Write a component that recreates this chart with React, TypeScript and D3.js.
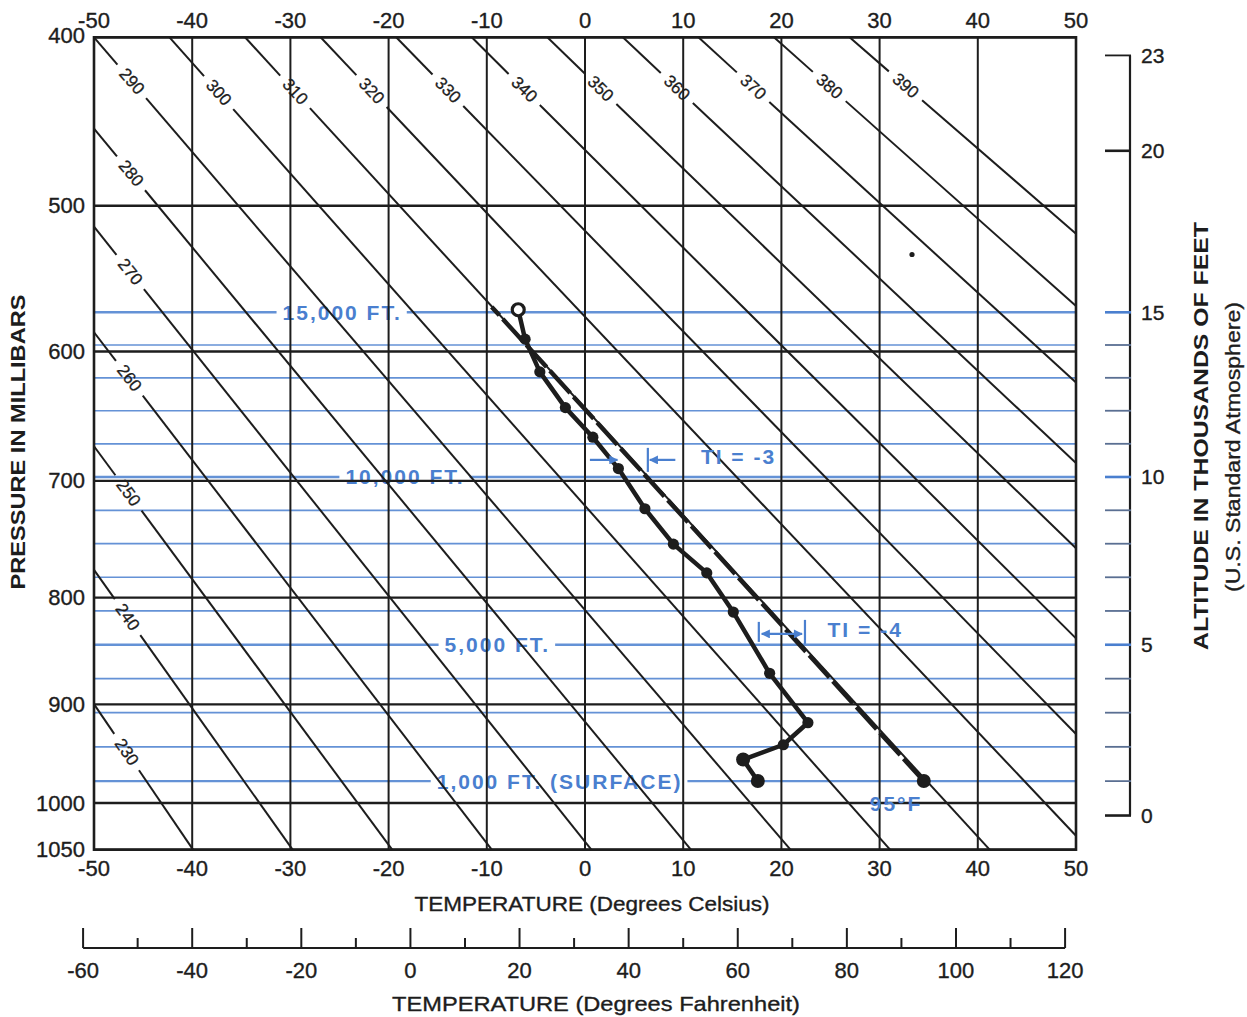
import { useEffect, useRef } from 'react';
import * as d3 from 'd3';

// isotherms (deg C) and isobars (mb)
const celsiusTicks = [-50, -40, -30, -20, -10, 0, 10, 20, 30, 40, 50];
const pressureTicks = [400, 500, 600, 700, 800, 900, 1000, 1050];
// dry adiabats, potential temperature in K
const thetaValues = [230, 240, 250, 260, 270, 280, 290, 300, 310, 320, 330, 340, 350, 360, 370, 380, 390];
// second temperature scale
const fahrenheitTicks = [-60, -50, -40, -30, -20, -10, 0, 10, 20, 30, 40, 50, 60, 70, 80, 90, 100, 110, 120];
const fahrenheitLabels = [-60, -40, -20, 0, 20, 40, 60, 80, 100, 120];
// altitude scale, thousands of feet
const altitudeTicks = [0, 1, 2, 3, 4, 5, 6, 7, 8, 9, 10, 11, 12, 13, 14, 15, 20, 23];
const altitudeLabels = [0, 5, 10, 15, 20, 23];
const altitudeLines = [1, 2, 3, 4, 5, 6, 7, 8, 9, 10, 11, 12, 13, 14, 15];

// morning sounding
const soundingPressure = [570, 591, 615, 642, 665, 690, 723, 753, 778, 813, 870, 918, 940, 955, 977];
const soundingTemp = [-6.8, -6.1, -4.6, -2.0, 0.8, 3.4, 6.1, 9.0, 12.4, 15.1, 18.8, 22.7, 20.2, 16.1, 17.6];
// dry adiabat from the 95F surface temperature
const parcelPressure = [977, 568];
const parcelTemp = [34.5, -9.5];
// stray dot on the sheet
const specklePressure = [532];
const speckleTemp = [33.3];

const altitudeLabelText = ['15,000 FT.', '10,000 FT.', '5,000 FT.', '1,000 FT. (SURFACE)'];
const altitudeLabelKft = [15, 10, 5, 1];

export default function App() {
  const svgRef = useRef<SVGSVGElement>(null);

  useEffect(() => {
    document.body.style.margin = '0';
    if (!svgRef.current) return;
    const svg = d3.select(svgRef.current);
    svg.selectAll('*').remove();

    const FONT = '"Liberation Sans", Arial, Helvetica, sans-serif';
    const KAPPA = 0.286;
    const INK = '#1d1d1d';
    const BLUE = '#4a7fcf';

    const x = d3.scaleLinear().domain([-50, 50]).range([94, 1076]);
    const y = d3.scalePow().exponent(KAPPA).domain([400, 1000]).range([37.3, 803]);
    const xF = (f: number) => x(((f - 32) * 5) / 9);
    const stdPressure = (kft: number) => 1013.25 * Math.pow(1 - 6.8756e-6 * kft * 1000, 5.2559);
    const yAlt = (kft: number) => y(stdPressure(kft));

    const left = x(-50), right = x(50), top = y(400), bottom = y(1050);

    svg.append('rect').attr('width', 1247).attr('height', 1017).attr('fill', '#fff');

    const defs = svg.append('defs');
    defs.append('marker')
      .attr('id', 'arrowhead')
      .attr('viewBox', '0 0 10 10')
      .attr('refX', 9).attr('refY', 5)
      .attr('markerWidth', 10).attr('markerHeight', 9)
      .attr('markerUnits', 'userSpaceOnUse')
      .attr('orient', 'auto-start-reverse')
      .append('path')
      .attr('d', 'M0,0 L10,5 L0,10 z')
      .attr('fill', BLUE);

    // ---- blue altitude lines with their labels ----
    const blue = svg.append('g');
    const labelStartT = [-30.8, -24.4, -14.3, -15.1];
    altitudeLines.forEach((kft) => {
      const yy = yAlt(kft);
      const idx = altitudeLabelKft.indexOf(kft);
      const width = kft % 5 === 0 || kft === 1 ? 2.4 : 1.7;
      const segs: [number, number][] = [];
      if (idx < 0) {
        segs.push([left, right]);
      } else {
        const x0 = x(labelStartT[idx]);
        const t = blue.append('text')
          .attr('x', x0).attr('y', yy)
          .attr('dominant-baseline', 'central')
          .attr('font-family', FONT).attr('font-size', 21).attr('font-weight', 'bold')
          .attr('letter-spacing', 2)
          .attr('fill', BLUE)
          .text(altitudeLabelText[idx]);
        const w = (t.node() as SVGTextElement).getComputedTextLength();
        segs.push([left, x0 - 6], [x0 + w + 5, right]);
      }
      segs.forEach(([a, b]) => {
        blue.append('line')
          .attr('x1', a).attr('x2', b).attr('y1', yy).attr('y2', yy)
          .attr('stroke', BLUE).attr('stroke-width', width).attr('opacity', 0.85);
      });
    });

    // ---- black grid ----
    const grid = svg.append('g').attr('stroke', INK).attr('fill', 'none');
    celsiusTicks.forEach((t) => {
      grid.append('line').attr('x1', x(t)).attr('x2', x(t)).attr('y1', top).attr('y2', bottom)
        .attr('stroke-width', 2);
    });
    pressureTicks.forEach((p) => {
      grid.append('line').attr('x1', left).attr('x2', right).attr('y1', y(p)).attr('y2', y(p))
        .attr('stroke-width', 2.4);
    });
    grid.append('rect').attr('x', left).attr('y', top).attr('width', right - left).attr('height', bottom - top)
      .attr('stroke-width', 2.6);

    // ---- dry adiabats ----
    const adiabats = svg.append('g');
    thetaValues.forEach((theta) => {
      const tempAt = (p: number) => theta * Math.pow(p / 1000, KAPPA) - 273.15;
      let sx: number, sy: number, ex: number, ey: number;
      let fromTop = true;
      const tTop = tempAt(400);
      if (tTop >= -50) { sx = x(tTop); sy = top; }
      else {
        fromTop = false;
        const pl = 1000 * Math.pow(223.15 / theta, 1 / KAPPA);
        sx = left; sy = y(pl);
      }
      const tBot = tempAt(1050);
      if (tBot <= 50) { ex = x(tBot); ey = bottom; }
      else {
        const pr = 1000 * Math.pow(323.15 / theta, 1 / KAPPA);
        ex = right; ey = y(pr);
      }
      const len = Math.hypot(ex - sx, ey - sy);
      const ux = (ex - sx) / len, uy = (ey - sy) / len;
      const d = fromTop ? 74 : 58;
      const gap = 22;
      const cx = sx + ux * d, cy = sy + uy * d;
      adiabats.append('line')
        .attr('x1', sx).attr('y1', sy).attr('x2', cx - ux * gap).attr('y2', cy - uy * gap)
        .attr('stroke', INK).attr('stroke-width', 2);
      adiabats.append('line')
        .attr('x1', cx + ux * gap).attr('y1', cy + uy * gap).attr('x2', ex).attr('y2', ey)
        .attr('stroke', INK).attr('stroke-width', 2);
      const ang = (Math.atan2(uy, ux) * 180) / Math.PI;
      adiabats.append('text')
        .attr('transform', `translate(${cx},${cy}) rotate(${ang})`)
        .attr('text-anchor', 'middle').attr('dominant-baseline', 'central')
        .attr('font-family', FONT).attr('font-size', 17).attr('fill', INK)
        .attr('stroke', INK).attr('stroke-width', 0.3)
        .text(theta);
    });

    // ---- axes text ----
    const txt = svg.append('g').attr('font-family', FONT).attr('fill', INK)
      .attr('stroke', INK).attr('stroke-width', 0.35);
    celsiusTicks.forEach((t) => {
      txt.append('text').attr('x', x(t)).attr('y', 20).attr('text-anchor', 'middle')
        .attr('dominant-baseline', 'central').attr('font-size', 22).text(t);
      txt.append('text').attr('x', x(t)).attr('y', 868).attr('text-anchor', 'middle')
        .attr('dominant-baseline', 'central').attr('font-size', 22).text(t);
    });
    pressureTicks.forEach((p) => {
      txt.append('text').attr('x', 85).attr('y', p === 400 ? y(p) - 2 : y(p)).attr('text-anchor', 'end')
        .attr('dominant-baseline', 'central').attr('font-size', 22).text(p);
    });
    txt.append('text').attr('x', 592).attr('y', 903).attr('text-anchor', 'middle')
      .attr('dominant-baseline', 'central').attr('font-size', 21)
      .attr('textLength', 355).attr('lengthAdjust', 'spacingAndGlyphs')
      .text('TEMPERATURE (Degrees Celsius)');
    txt.append('text').attr('transform', 'translate(18,442) rotate(-90)').attr('text-anchor', 'middle')
      .attr('dominant-baseline', 'central').attr('font-size', 20).attr('font-weight', 'bold')
      .attr('stroke-width', 0)
      .attr('textLength', 295).attr('lengthAdjust', 'spacingAndGlyphs')
      .text('PRESSURE IN MILLIBARS');

    // ---- Fahrenheit scale ----
    const fy = 948;
    const fax = svg.append('g').attr('stroke', INK);
    fax.append('line').attr('x1', xF(-60)).attr('x2', xF(120)).attr('y1', fy).attr('y2', fy).attr('stroke-width', 2.2);
    fahrenheitTicks.forEach((f) => {
      const major = fahrenheitLabels.includes(f);
      fax.append('line').attr('x1', xF(f)).attr('x2', xF(f)).attr('y1', fy).attr('y2', fy - (major ? 20 : 10))
        .attr('stroke-width', 2);
    });
    fahrenheitLabels.forEach((f) => {
      txt.append('text').attr('x', xF(f)).attr('y', 970).attr('text-anchor', 'middle')
        .attr('dominant-baseline', 'central').attr('font-size', 22).text(f);
    });
    txt.append('text').attr('x', 596).attr('y', 1003).attr('text-anchor', 'middle')
      .attr('dominant-baseline', 'central').attr('font-size', 21)
      .attr('textLength', 408).attr('lengthAdjust', 'spacingAndGlyphs')
      .text('TEMPERATURE (Degrees Fahrenheit)');

    // ---- altitude scale ----
    const ax = 1130;
    const alt = svg.append('g');
    alt.append('line').attr('x1', ax).attr('x2', ax).attr('y1', yAlt(23)).attr('y2', yAlt(0))
      .attr('stroke', INK).attr('stroke-width', 2.2);
    altitudeTicks.forEach((k) => {
      const isBlue = k >= 1 && k <= 15;
      alt.append('line').attr('x1', ax - 25).attr('x2', ax + 1).attr('y1', yAlt(k)).attr('y2', yAlt(k))
        .attr('stroke', isBlue ? (k % 5 === 0 ? BLUE : '#5a6f92') : INK)
        .attr('stroke-width', k % 5 === 0 ? 2.6 : 1.8);
    });
    altitudeLabels.forEach((k) => {
      txt.append('text').attr('x', 1141).attr('y', yAlt(k)).attr('dominant-baseline', 'central')
        .attr('font-size', 21).text(k);
    });
    txt.append('text').attr('transform', 'translate(1201,436) rotate(-90)').attr('text-anchor', 'middle')
      .attr('dominant-baseline', 'central').attr('font-size', 20).attr('font-weight', 'bold')
      .attr('stroke-width', 0)
      .attr('textLength', 428).attr('lengthAdjust', 'spacingAndGlyphs')
      .text('ALTITUDE IN THOUSANDS OF FEET');
    txt.append('text').attr('transform', 'translate(1233,447) rotate(-90)').attr('text-anchor', 'middle')
      .attr('dominant-baseline', 'central').attr('font-size', 20)
      .attr('textLength', 290).attr('lengthAdjust', 'spacingAndGlyphs')
      .text('(U.S. Standard Atmosphere)');

    // ---- sounding and lifted parcel ----
    const sounding = soundingPressure.map((p, i) => ({ p, t: soundingTemp[i] }));
    const parcel = parcelPressure.map((p, i) => ({ p, t: parcelTemp[i] }));
    const line = d3.line<{ p: number; t: number }>().x((d) => x(d.t)).y((d) => y(d.p));

    svg.append('path').datum(parcel).attr('d', line).attr('fill', 'none')
      .attr('stroke', INK).attr('stroke-width', 4.5).attr('stroke-dasharray', '30 5');
    svg.append('path').datum(sounding).attr('d', line).attr('fill', 'none')
      .attr('stroke', INK).attr('stroke-width', 4.5).attr('stroke-linejoin', 'round');

    svg.selectAll('.sdot').data(sounding.slice(1)).enter().append('circle')
      .attr('cx', (d) => x(d.t)).attr('cy', (d) => y(d.p))
      .attr('r', (d) => (d.p > 950 ? 7 : 5.6)).attr('fill', INK);
    svg.append('circle').attr('cx', x(sounding[0].t)).attr('cy', y(sounding[0].p)).attr('r', 6)
      .attr('fill', '#fff').attr('stroke', INK).attr('stroke-width', 3.2);
    svg.append('circle').attr('cx', x(parcel[0].t)).attr('cy', y(parcel[0].p)).attr('r', 7).attr('fill', INK);
    specklePressure.forEach((p, i) => {
      svg.append('circle').attr('cx', x(speckleTemp[i])).attr('cy', y(p)).attr('r', 2.6).attr('fill', INK);
    });

    // ---- stability index annotations ----
    const ann = svg.append('g').attr('stroke', BLUE).attr('stroke-width', 2.2);
    const y3 = y(683);
    ann.append('line').attr('x1', x(0.5)).attr('x2', x(3.3)).attr('y1', y3).attr('y2', y3).attr('marker-end', 'url(#arrowhead)');
    ann.append('line').attr('x1', x(6.4)).attr('x2', x(6.4)).attr('y1', y3 - 12).attr('y2', y3 + 12);
    ann.append('line').attr('x1', x(9.2)).attr('x2', x(6.6)).attr('y1', y3).attr('y2', y3).attr('marker-end', 'url(#arrowhead)');
    const y4 = y(833);
    ann.append('line').attr('x1', x(17.7)).attr('x2', x(17.7)).attr('y1', y4 - 12).attr('y2', y4 + 8);
    ann.append('line').attr('x1', x(22.4)).attr('x2', x(22.4)).attr('y1', y4 - 14).attr('y2', y4 + 10);
    ann.append('line').attr('x1', x(18)).attr('x2', x(22.1)).attr('y1', y4).attr('y2', y4)
      .attr('marker-start', 'url(#arrowhead)').attr('marker-end', 'url(#arrowhead)');

    const blueText = svg.append('g').attr('font-family', FONT).attr('font-size', 21).attr('font-weight', 'bold')
      .attr('letter-spacing', 2).attr('fill', BLUE);
    blueText.append('text').attr('x', x(11.8)).attr('y', y(680)).attr('dominant-baseline', 'central').text('TI = -3');
    blueText.append('text').attr('x', x(24.7)).attr('y', y(829)).attr('dominant-baseline', 'central').text('TI = -4');
    blueText.append('text').attr('x', x(29)).attr('y', y(1000)).attr('dominant-baseline', 'central').text('95°F');
  }, []);

  return <svg ref={svgRef} width={1247} height={1017} style={{ display: 'block' }} />;
}
